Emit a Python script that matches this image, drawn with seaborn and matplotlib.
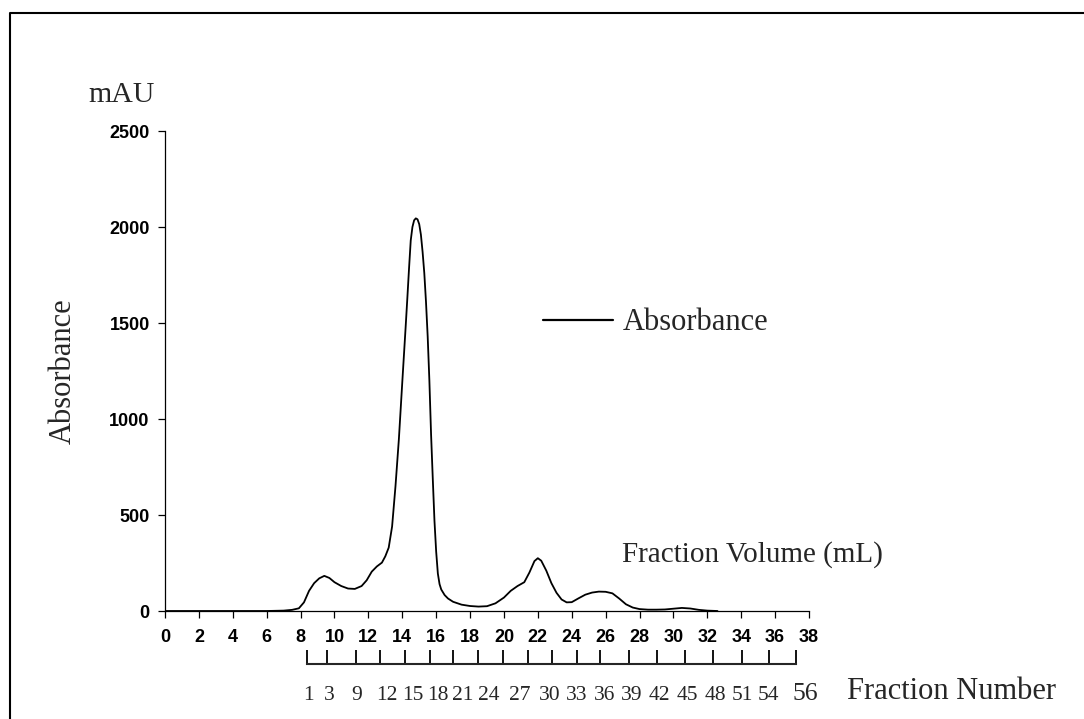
import matplotlib
matplotlib.use("Agg")
import matplotlib.pyplot as plt
from matplotlib.lines import Line2D
from matplotlib.transforms import blended_transform_factory
import seaborn as sns
import pandas as pd

# ---- data ----
volume_ml = [0, 2, 4, 6, 7.0, 7.5, 7.9, 8.2, 8.5, 8.8, 9.1, 9.4, 9.7, 10.0, 10.4, 10.8,
             11.2, 11.6, 11.9, 12.2, 12.5, 12.8, 13.0, 13.2, 13.4, 13.6, 13.8, 14.0,
             14.2, 14.3, 14.4, 14.5, 14.6, 14.7, 14.8, 14.9, 15.0, 15.1, 15.2, 15.3,
             15.4, 15.5, 15.6, 15.7, 15.8, 15.9, 16.0, 16.1, 16.2, 16.3, 16.5,
             16.7, 17.0, 17.5, 18.0, 18.5, 19.0, 19.5, 20.0, 20.4, 20.8, 21.2, 21.5,
             21.8, 22.0, 22.2, 22.5, 22.8, 23.1, 23.4, 23.7, 24.0, 24.4, 24.8, 25.2,
             25.6, 26.0, 26.4, 26.8, 27.2, 27.6, 28.0, 28.5, 29.0, 29.5, 30.0, 30.5,
             31.0, 31.5, 32.0, 32.6]
absorbance_mau = [0, 0, 0, 0, 2, 6, 14, 45, 105, 145, 170, 183, 172, 150, 130, 117,
                  115, 130, 160, 205, 232, 252, 285, 330, 440, 650, 895, 1190,
                  1480, 1630, 1785, 1930, 2000, 2035, 2045, 2040, 2015, 1960, 1870, 1760,
                  1610, 1430, 1200, 920, 690, 470, 310, 195, 140, 112, 83,
                  65, 48, 33, 26, 23, 25, 40, 70, 105, 130, 150, 200,
                  260, 275, 262, 210, 145, 95, 60, 45, 46, 66, 85, 96,
                  101, 100, 92, 65, 35, 18, 10, 7, 7, 8, 12, 16,
                  13, 6, 2, 0]

volume_ticks = list(range(0, 39, 2))
absorbance_ticks = [0, 500, 1000, 1500, 2000, 2500]

# fraction-number ruler (positions in mL)
fraction_tick_ml = [8.38, 9.56, 11.27, 12.69, 14.16, 15.64, 16.99, 18.47, 19.94, 21.42,
                    22.84, 24.31, 25.67, 27.38, 29.03, 30.68, 32.33, 34.05, 35.64, 37.23]
fraction_labels = ["1", "3", "9", "12", "15", "18", "21", "24", "27", "30", "33", "36",
                   "39", "42", "45", "48", "51", "54", "56"]
fraction_label_ml = [8.44, 9.68, 11.33, 13.10, 14.63, 16.11, 17.58, 19.12, 20.95, 22.72,
                     24.31, 25.96, 27.55, 29.2, 30.8, 32.45, 34.05, 35.58, 37.77]

df = pd.DataFrame({"Volume": volume_ml, "Absorbance": absorbance_mau})

# ---- style ----
sns.set_style("ticks")
plt.rcParams["font.family"] = ["Liberation Sans", "DejaVu Sans"]
SERIF = ["Liberation Serif", "DejaVu Serif"]

W, H = 1084, 719
fig = plt.figure(figsize=(W / 100, H / 100), dpi=100)
fig.patch.set_facecolor("white")

def fx(px):
    return px / W

def fy(py):
    return 1 - py / H

ax = fig.add_axes([fx(165), fy(611), fx(809) - fx(165), fy(131) - fy(611)])
sns.lineplot(data=df, x="Volume", y="Absorbance", ax=ax, color="black",
             linewidth=1.3, label="Absorbance")
ax.set_xlim(0, 38)
ax.set_ylim(0, 2500)
ax.set_xticks(volume_ticks)
ax.set_yticks(absorbance_ticks)
ax.set_xticklabels([str(v) for v in volume_ticks], fontweight="bold")
ax.set_yticklabels([str(v) for v in absorbance_ticks], fontweight="bold")
for s in ["top", "right"]:
    ax.spines[s].set_visible(False)
for s in ["left", "bottom"]:
    ax.spines[s].set_linewidth(0.9)
    ax.spines[s].set_color("black")
ax.tick_params(axis="both", direction="out", length=5, width=0.9, colors="black",
               labelsize=13)
ax.tick_params(axis="x", pad=8)
ax.tick_params(axis="y", pad=6)
ax.set_xlabel("")
ax.set_ylabel("Absorbance", fontsize=22, family=SERIF)
ax.yaxis.set_label_coords(-0.135, 0.5)
ax.patch.set_alpha(0)

ax.text(-0.067, 1.060, "mAU", transform=ax.transAxes, ha="center", va="baseline",
        fontsize=21.5, family=SERIF)
ax.text(0.7096, 0.102, "Fraction Volume (mL)", transform=ax.transAxes, ha="left",
        va="baseline", fontsize=21, family=SERIF)

leg = ax.legend(loc="center left", bbox_to_anchor=(0.587, 0.600), frameon=False,
                borderpad=0, borderaxespad=0, handlelength=2.3, handletextpad=0.3,
                prop={"family": SERIF, "size": 22})
for h in leg.get_lines():
    h.set_linewidth(1.6)

# ---- fraction number ruler ----
ax2 = fig.add_axes([fx(165), fy(664), fx(809) - fx(165), 0.02])
ax2.set_xlim(0, 38)
ax2.set_ylim(0, 1)
ax2.patch.set_alpha(0)
for s in ["top", "right", "left"]:
    ax2.spines[s].set_visible(False)
ax2.spines["bottom"].set_bounds(fraction_tick_ml[0], fraction_tick_ml[-1])
ax2.spines["bottom"].set_linewidth(1.5)
ax2.set_yticks([])
ax2.set_xticks(fraction_tick_ml)
ax2.set_xticklabels([])
ax2.tick_params(axis="x", which="major", direction="in", length=10, width=1.3,
                colors="black")
trans = blended_transform_factory(ax2.transData, fig.transFigure)
for i, (lab, xpos) in enumerate(zip(fraction_labels, fraction_label_ml)):
    size = 18.5 if i == len(fraction_labels) - 1 else 15.5
    ax2.text(xpos, fy(700), lab, transform=trans, ha="center", va="baseline",
             fontsize=size, family=SERIF, clip_on=False)

fig.text(fx(847), fy(699), "Fraction Number", ha="left", va="baseline", fontsize=22,
         family=SERIF)

# ---- outer frame ----
fig.add_artist(Line2D([fx(10), fx(10), 1.0], [0.0, fy(13), fy(13)],
                      transform=fig.transFigure, color="black", linewidth=1.5))

fig.savefig("out.png", dpi=100, facecolor="white")
